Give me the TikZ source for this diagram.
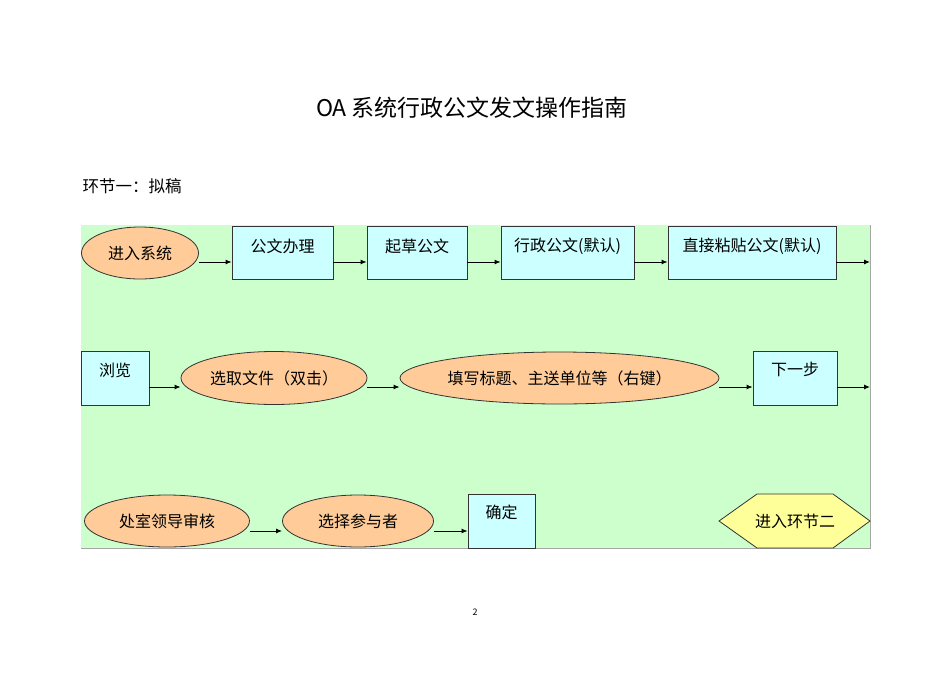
\documentclass[tikz,border=0pt]{standalone}
\usepackage{fontspec}
\setmainfont{Noto Sans CJK SC}
\usetikzlibrary{arrows.meta,calc,shapes.geometric}
\definecolor{bggreen}{HTML}{CCFFCC}
\definecolor{boxcyan}{HTML}{CCFFFF}
\definecolor{ellorange}{HTML}{FFCC99}
\definecolor{hexyellow}{HTML}{FFFF99}
\tikzset{
  stepbox/.style={draw=black!80,line width=0.8pt,fill=boxcyan,inner sep=0pt},
  oval/.style={ellipse,draw=black!80,line width=0.8pt,fill=ellorange,inner sep=0pt,font=\fontsize{16}{18}\selectfont},
  boxtext/.style={anchor=center,yshift=-20pt,font=\fontsize{16}{18}\selectfont},
  arr/.style={-{Latex[length=6pt,width=5pt]},line width=1pt,black}
}
\begin{document}
\begin{tikzpicture}[x=1pt,y=-1pt]
\fill[white] (0,0) rectangle (950,672);
\useasboundingbox (0,0) rectangle (950,672);
% background panel
\fill[bggreen] (81,225) rectangle (870,548);
\draw[black!35,line width=0.8pt] (870,225) -- (870,548) -- (81,548);
% title
\node[font=\fontsize{23}{26}\selectfont] (title) at (472,108) {OA 系统行政公文发文操作指南};
\node[font=\fontsize{16.5}{18}\selectfont,anchor=west] (sec) at (79,186) {环节一：拟稿};
\node[font=\fontsize{9}{10}\selectfont] (pg) at (475,612) {2};
% row 1
\node[oval,minimum width=117pt,minimum height=52pt] (a1) at (140,253) {进入系统};
\node[stepbox,minimum width=101pt,minimum height=53pt,label={[boxtext]north:公文办理}] (a2) at (282.5,253) {};
\node[stepbox,minimum width=100pt,minimum height=53pt,label={[boxtext]north:起草公文}] (a3) at (417,253) {};
\node[stepbox,minimum width=133pt,minimum height=53pt,label={[boxtext]north:行政公文(默认)}] (a4) at (567.5,253) {};
\node[stepbox,minimum width=168pt,minimum height=53pt,label={[boxtext]north:直接粘贴公文(默认)}] (a5) at (752,253) {};
\coordinate (a6) at (870,262);
\draw[arr] ([yshift=-9pt]a1.east) -- ([yshift=-9pt]a1.east -| a2.west);
\draw[arr] ([yshift=-9pt]a2.east) -- ([yshift=-9pt]a2.east -| a3.west);
\draw[arr] ([yshift=-9pt]a3.east) -- ([yshift=-9pt]a3.east -| a4.west);
\draw[arr] ([yshift=-9pt]a4.east) -- ([yshift=-9pt]a4.east -| a5.west);
\draw[arr] ([yshift=-9pt]a5.east) -- (a6);
% row 2
\node[stepbox,minimum width=68pt,minimum height=54pt,label={[boxtext]north:浏览}] (b1) at (115,378) {};
\node[oval,minimum width=186pt,minimum height=53pt] (b2) at (274,378) {选取文件（双击）};
\node[oval,minimum width=319pt,minimum height=52pt] (b3) at (559.5,378) {填写标题、主送单位等（右键）};
\node[stepbox,minimum width=84pt,minimum height=54pt,label={[boxtext,yshift=1pt]north:下一步}] (b4) at (795,378) {};
\coordinate (b5) at (870,387);
\draw[arr] ([yshift=-9pt]b1.east) -- ([yshift=-9pt]b1.east -| b2.west);
\draw[arr] ([yshift=-9pt]b2.east) -- ([yshift=-9pt]b2.east -| b3.west);
\draw[arr] ([yshift=-9pt]b3.east) -- ([yshift=-9pt]b3.east -| b4.west);
\draw[arr] ([yshift=-9pt]b4.east) -- (b5);
% row 3
\node[oval,minimum width=165pt,minimum height=52pt] (c1) at (167,521) {处室领导审核};
\node[oval,minimum width=151pt,minimum height=52pt] (c2) at (358,521) {选择参与者};
\node[stepbox,minimum width=67pt,minimum height=54pt,label={[boxtext,yshift=1pt]north:确定}] (c3) at (501.5,521) {};
\draw[arr] ([yshift=-10pt]c1.east) -- ([yshift=-10pt]c1.east -| c2.west);
\draw[arr] ([yshift=-10pt]c2.east) -- ([yshift=-10pt]c2.east -| c3.west);
% hexagon
\coordinate (hc) at (795,521);
\draw[fill=hexyellow,draw=black!80,line width=0.8pt] ($(hc)+(-76,0)$) -- ($(hc)+(-38,-27)$) -- ($(hc)+(38,-27)$) -- ($(hc)+(75,0)$) -- ($(hc)+(38,27)$) -- ($(hc)+(-38,27)$) -- cycle;
\node[font=\fontsize{16}{18}\selectfont] (h) at (hc) {进入环节二};
\end{tikzpicture}
\end{document}
